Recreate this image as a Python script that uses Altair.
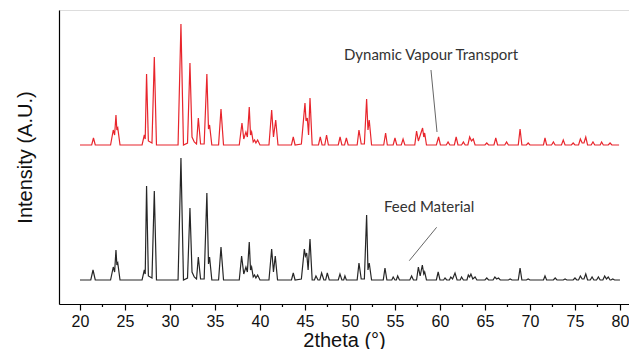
import altair as alt
import pandas as pd

# ---- data (2theta in degrees, intensity in arbitrary units) ----
feed_x = [20.0, 21.2, 21.45, 21.7,
          23.4, 23.7, 23.85, 24.0, 24.1, 24.2, 24.45,
          26.9, 27.15, 27.25, 27.4, 27.6, 28.0, 28.26, 28.5,
          30.9, 31.22, 31.5,
          31.95, 32.22, 32.45, 32.7, 32.95, 33.15, 33.4,
          33.8, 34.1, 34.28, 34.4, 34.65,
          35.4, 35.67, 35.95,
          37.7, 37.96, 38.2, 38.44, 38.6, 38.81, 38.95, 39.07, 39.25, 39.4, 39.55, 39.74, 40.0,
          41.0, 41.3, 41.5, 41.7, 41.95,
          43.5, 43.7, 43.9,
          44.6, 44.93, 45.05, 45.19, 45.35, 45.56, 45.8,
          46.05, 46.22, 46.45, 46.65, 46.85, 47.1, 47.3, 47.48, 47.7,
          48.7, 48.89, 49.1, 49.3, 49.44, 49.6,
          50.8, 51.0, 51.25, 51.6, 51.85, 52.0, 52.14, 52.4,
          53.7, 53.89, 54.1, 54.65, 54.8, 55.0, 55.15, 55.3, 55.5,
          56.65, 56.85, 57.05, 57.4, 57.6, 57.8, 58.04, 58.2, 58.3, 58.5,
          59.6, 59.8, 60.0, 60.4, 60.56, 60.75, 61.05, 61.2, 61.4, 61.67, 61.9,
          62.25, 62.4, 62.6, 63.0, 63.15, 63.3, 63.44, 63.65, 63.9, 64.1,
          65.0, 65.2, 65.4, 65.9, 66.1, 66.3, 66.5, 66.7, 67.6, 67.8, 68.0,
          68.7, 68.9, 69.1, 69.6, 69.8, 70.0, 71.5, 71.67, 71.85, 72.6, 72.8, 73.0,
          73.7, 73.9, 74.1, 74.8, 75.0, 75.2, 75.4, 75.6, 75.8, 76.0, 76.2, 76.4,
          76.7, 76.9, 77.1, 77.4, 77.6, 77.8, 78.1, 78.3, 78.5, 78.7, 78.9, 79.0, 79.2, 79.4, 80.0]
feed_y = [0, 0, 10, 0,
          0, 13, 8, 30, 15, 17, 0,
          0, 10, 6, 94, 4, 2, 89, 0,
          0, 122, 0,
          2, 72, 8, 3, 1, 23, 1,
          1, 87, 16, 23, 0,
          0, 33, 0,
          0, 24, 6, 13, 8, 38, 10, 13, 3, 5, 2, 5, 0,
          0, 31, 8, 24, 0,
          0, 7, 0,
          1, 31, 24, 27, 10, 41, 0,
          0, 4, 0, 0, 7, 0, 0, 7, 0,
          0, 6, 0, 0, 4, 0,
          0, 17, 1, 1, 65, 10, 17, 0,
          0, 12, 0, 0, 3, 0, 0, 4, 0,
          0, 4, 0, 0, 13, 4, 15, 6, 8, 0,
          0, 8, 0, 0, 2, 0, 0, 3, 1, 7, 0,
          0, 3, 0, 0, 5, 3, 6, 1, 3, 0,
          0, 2, 0, 0, 3, 1, 2, 0, 0, 1, 0,
          0, 12, 0, 0, 1, 0, 0, 4, 0, 0, 2, 0,
          0, 1, 0, 0, 2, 0, 0, 4, 1, 1, 6, 0,
          0, 3, 0, 0, 3, 0, 0, 4, 1, 3, 0, 0, 1, 0, 0]

dvt_x = [20.0, 21.3, 21.5, 21.7,
         23.4, 23.7, 23.85, 24.0, 24.1, 24.2, 24.45,
         26.9, 27.15, 27.25, 27.4, 27.6, 28.0, 28.26, 28.5,
         30.9, 31.22, 31.5,
         31.95, 32.22, 32.45, 32.7, 32.95, 33.15, 33.4,
         33.8, 34.1, 34.28, 34.4, 34.65,
         35.4, 35.67, 35.95,
         37.7, 38.0, 38.2, 38.44, 38.6, 38.81, 38.95, 39.07, 39.25, 39.4, 39.55, 39.74, 40.0,
         41.0, 41.3, 41.5, 41.75, 42.0,
         43.5, 43.7, 43.9,
         44.6, 45.0, 45.12, 45.26, 45.4, 45.56, 45.8,
         46.5, 46.7, 46.9, 47.2, 47.4, 47.6,
         48.7, 48.9, 49.1, 49.4, 49.6, 49.8,
         50.8, 51.0, 51.25, 51.6, 51.85, 52.0, 52.14, 52.4,
         53.75, 53.96, 54.15, 54.8, 55.0, 55.2, 55.7, 55.9, 56.1,
         57.2, 57.4, 57.6, 58.07, 58.2, 58.3, 58.5,
         59.6, 59.85, 60.05, 60.7, 60.9, 61.1, 61.6, 61.8, 62.0, 62.4, 62.6, 62.8,
         63.1, 63.3, 63.5, 63.7, 63.9,
         65.0, 65.2, 65.4, 66.0, 66.2, 66.4, 67.2, 67.4, 67.6, 68.7, 68.9, 69.1,
         69.6, 69.8, 70.0, 71.5, 71.67, 71.85, 72.4, 72.6, 72.8, 73.5, 73.7, 73.9,
         74.6, 74.8, 75.0, 75.4, 75.6, 75.8, 76.0, 76.2, 76.4, 76.8, 77.0, 77.2,
         77.8, 77.96, 78.15, 78.7, 78.9, 79.1, 79.9]
dvt_y = [0, 0, 7, 0,
         0, 15, 10, 30, 15, 17, 0,
         0, 10, 6, 71, 4, 2, 88, 0,
         0, 121, 0,
         2, 82, 8, 3, 1, 27, 1,
         1, 71, 16, 20, 0,
         0, 36, 0,
         0, 22, 6, 13, 8, 38, 10, 13, 3, 5, 2, 5, 0,
         0, 35, 8, 25, 0,
         0, 8, 0,
         1, 42, 24, 27, 10, 47, 0,
         0, 8, 0, 0, 10, 0,
         0, 8, 0, 0, 7, 0,
         0, 15, 1, 1, 46, 15, 25, 0,
         0, 12, 0, 0, 7, 0, 0, 6, 0,
         0, 14, 4, 17, 8, 12, 0,
         0, 8, 0, 0, 3, 0, 0, 8, 0, 0, 3, 0,
         0, 8, 4, 6, 0,
         0, 2, 0, 0, 7, 0, 0, 3, 0, 0, 16, 0,
         0, 2, 0, 0, 7, 0, 0, 3, 0, 0, 5, 0,
         0, 2, 0, 0, 6, 2, 2, 8, 0, 0, 3, 0,
         0, 3, 0, 0, 2, 0, 0]

DVT_OFFSET = 135  # vertical offset of the upper pattern

series_names = ["Feed Material", "Dynamic Vapour Transport"]
series_colors = ["#262626", "#e8252c"]

major_ticks = [20, 25, 30, 35, 40, 45, 50, 55, 60, 65, 70, 75, 80]
minor_ticks = [22.5, 27.5, 32.5, 37.5, 42.5, 47.5, 52.5, 57.5, 62.5, 67.5, 72.5, 77.5]

label_text = ["Dynamic Vapour Transport", "Feed Material"]
label_x = [49.33, 53.78]
label_y = [225, 73]
pointer_x = [59.0, 59.63]
pointer_y = [210, 52.7]
pointer_x2 = [59.67, 56.59]
pointer_y2 = [148, 19.3]

# ---- build tables ----
df = pd.concat([
    pd.DataFrame({"theta": feed_x, "intensity": feed_y, "series": series_names[0], "order": range(len(feed_x))}),
    pd.DataFrame({"theta": dvt_x, "intensity": [v + DVT_OFFSET for v in dvt_y],
                  "series": series_names[1], "order": range(len(dvt_x))}),
])
labels_df = pd.DataFrame({"text": label_text, "x": label_x, "y": label_y})
pointers_df = pd.DataFrame({"x": pointer_x, "y": pointer_y, "x2": pointer_x2, "y2": pointer_y2})
minor_df = pd.DataFrame({"t": minor_ticks})

W, H = 570, 294
xscale = alt.Scale(domain=[17.67, 17.67 + W / 9.0], nice=False, zero=False)
yscale = alt.Scale(domain=[-24, 270], nice=False, zero=False)

lines = alt.Chart(df).mark_line(strokeWidth=1.2).encode(
    x=alt.X("theta:Q", scale=xscale,
            axis=alt.Axis(values=major_ticks, title="2theta (°)", grid=False,
                          tickSize=6, tickColor="black", tickWidth=1.2,
                          domainColor="black", domainWidth=1.2,
                          labelFont="Liberation Sans", labelFontSize=16, labelColor="#111",
                          labelPadding=3, titleFont="Liberation Sans", titleFontSize=20,
                          titleFontWeight="normal", titleColor="#111", titlePadding=1)),
    y=alt.Y("intensity:Q", scale=yscale,
            axis=alt.Axis(labels=False, ticks=False, grid=False, title="Intensity (A.U.)",
                          domainColor="black", domainWidth=1.2,
                          titleFont="Liberation Sans", titleFontSize=20, titleFontWeight="normal",
                          titleColor="#111", titlePadding=24)),
    color=alt.Color("series:N", scale=alt.Scale(domain=series_names, range=series_colors), legend=None),
    order="order:Q",
)

minor = alt.Chart(minor_df).mark_rule(color="black", strokeWidth=1.2).encode(
    x=alt.X("t:Q", scale=xscale),
    y=alt.value(H),
    y2=alt.value(H + 3),
)

pointers = alt.Chart(pointers_df).mark_rule(color="#666", strokeWidth=1).encode(
    x=alt.X("x:Q", scale=xscale), y=alt.Y("y:Q", scale=yscale),
    x2="x2:Q", y2="y2:Q",
)

labels = alt.Chart(labels_df).mark_text(align="left", baseline="middle", font="Lato",
                                        fontSize=15, color="#333").encode(
    x=alt.X("x:Q", scale=xscale), y=alt.Y("y:Q", scale=yscale), text="text:N",
)

chart = alt.layer(lines, minor, pointers, labels).properties(
    width=W, height=H,
    autosize=alt.AutoSizeParams(type="none"),
    padding={"left": 51, "top": 2, "right": 0, "bottom": 45},
).configure_view(stroke=None).configure(background="white")

chart.save("out.html", embed_options={"renderer": "svg", "actions": False})
